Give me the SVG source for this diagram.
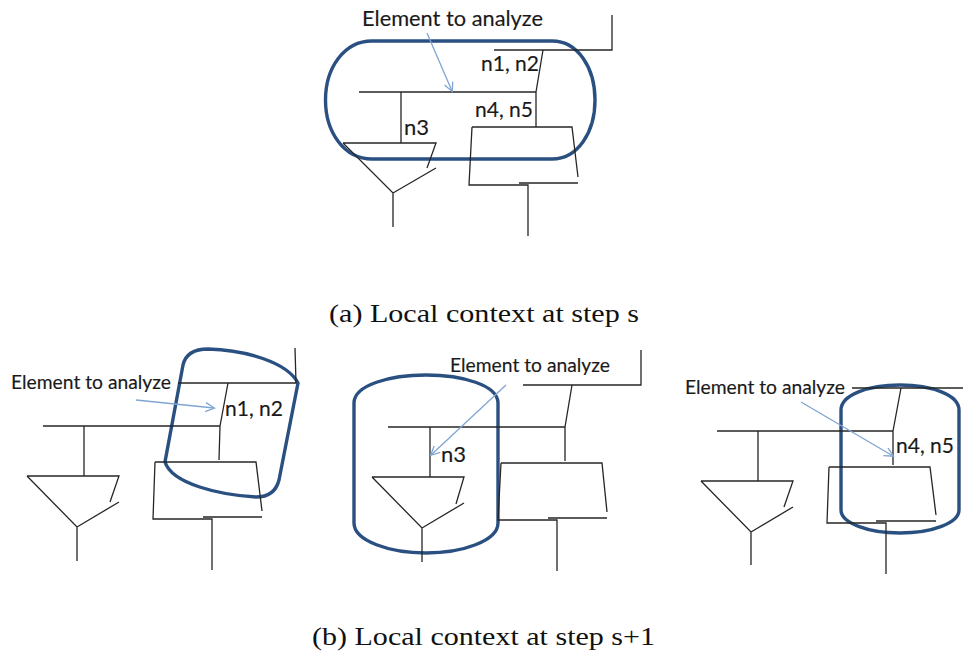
<svg xmlns="http://www.w3.org/2000/svg" width="963" height="654" viewBox="0 0 963 654">
<style>
.w{fill:none;stroke:#262626;stroke-width:1.3}
.o{fill:none;stroke:#2a5082;stroke-width:3.4}
.a{fill:none;stroke:#7fa5d3;stroke-width:1.3}
.l{font-family:Lato,"Open Sans",sans-serif;fill:#1a1a1a;stroke:#1a1a1a;stroke-width:.15}
.b{font-size:22px}
.s{font-size:19.5px}
.c{font-family:"Liberation Serif","DejaVu Serif",serif;font-size:25px;fill:#111}
</style>
<defs><marker id="h" markerWidth="12" markerHeight="12" refX="9.5" refY="5" orient="auto" markerUnits="userSpaceOnUse"><path d="M1 0.5L10 5L1 9.5" fill="none" stroke="#7fa5d3" stroke-width="1.3"/></marker></defs>
<rect width="963" height="654" fill="#fff"/>

<g id="outlines">
<path id="outline-a" class="o" d="M372 41H552C578 41 595 68 595 100C595 132 578 159 552 159H372C344 159 325.500 132 325.500 100C325.500 68 344 41 372 41Z"/>
<path id="outline-b1" class="o" d="M183 365C186 352 197 349 208 349C245 350 287 362 298 383L279 480C276 492 267 497 256 497C220 495 172 484 165 462L183 365Z"/>
<path id="outline-b2" class="o" d="M354 403C354 385 390 375 426 375C462 375 498 385 498 403V523C498 541 462 553 426 553C390 553 354 541 354 523Z"/>
<path id="outline-b3" class="o" d="M841 410C841 395 868 385 900 385C932 385 959 395 959 410V510C959 523 932 533 900 533C868 533 841 523 841 510Z"/>
</g>

<g id="connectors">
<g id="circuit-a">
<path class="w" d="M494 50H612V15M543 50L536 92M359 92H536V127M401 92V143"/>
<path class="w" d="M472 127H572L578 177M519 183H578M472 127L469 185H528V236"/>
<path class="w" d="M343 143H436L427 168M343 143L393 193L436 168M393 193V227"/>
<path class="a" marker-end="url(#h)" d="M427 33L452 91"/>
</g>
<g id="circuit-b1">
<path class="w" d="M178 383H296L295 348M228 383L220 426M43 426H220L219 460M84 426V476"/>
<path class="w" d="M155 462H256L262 511M203 517H262M155 462L153 519H212V570"/>
<path class="w" d="M27 476H119L110 502M27 476L77 527L119 502M77 527V561"/>
<path class="a" marker-end="url(#h)" d="M136 400L214 408"/>
</g>
<g id="circuit-b2">
<path class="w" d="M523 385H641V350M572 385L565 427M388 427H565V461M430 427V477"/>
<path class="w" d="M501 463H602L607 512M548 518H607M501 463L498 520H557V571"/>
<path class="w" d="M372 477H464L456 504M372 477L422 528L464 503M422 528V562"/>
<path class="a" marker-end="url(#h)" d="M506 385L431 455"/>
</g>
<g id="circuit-b3">
<path class="w" d="M852 388H963M901 388L893 431M717 431H893V465M758 431V481"/>
<path class="w" d="M829 467H930L936 515M876 521H936M829 467L827 523H886V574"/>
<path class="w" d="M701 481H793L784 507M701 481L751 532L793 507M751 532V565"/>
<path class="a" marker-end="url(#h)" d="M801 402L893 456"/>
</g>
</g>

<g id="labels">
<text class="l b" x="362" y="26" textLength="181" lengthAdjust="spacingAndGlyphs">Element to analyze</text>
<text class="l b" x="481" y="71" textLength="58" lengthAdjust="spacingAndGlyphs">n1, n2</text>
<text class="l b" x="475" y="117" textLength="58" lengthAdjust="spacingAndGlyphs">n4, n5</text>
<text class="l b" x="404" y="135">n3</text>
<text class="l s" x="11" y="389" textLength="160" lengthAdjust="spacingAndGlyphs">Element to analyze</text>
<text class="l b" x="225" y="416" textLength="58" lengthAdjust="spacingAndGlyphs">n1, n2</text>
<text class="l s" x="450" y="372" textLength="160" lengthAdjust="spacingAndGlyphs">Element to analyze</text>
<text class="l b" x="441" y="462">n3</text>
<text class="l s" x="685" y="394" textLength="160" lengthAdjust="spacingAndGlyphs">Element to analyze</text>
<text class="l b" x="896" y="453" textLength="58" lengthAdjust="spacingAndGlyphs">n4, n5</text>
</g>

<g id="captions">
<text class="c" x="329" y="322" textLength="310" lengthAdjust="spacingAndGlyphs">(a) Local context at step s</text>
<text class="c" x="312" y="645" textLength="343" lengthAdjust="spacingAndGlyphs">(b) Local context at step s+1</text>
</g>
</svg>
